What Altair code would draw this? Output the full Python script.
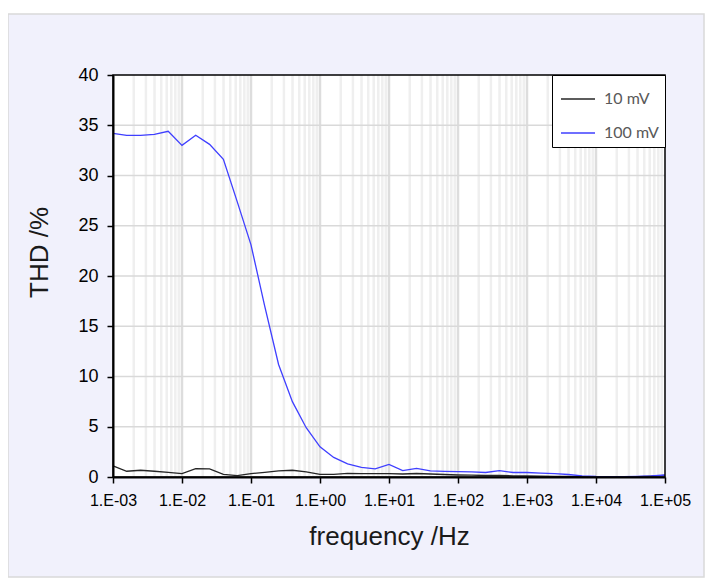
import altair as alt
import pandas as pd

# ---- data ----
freq = [0.001, 0.00158, 0.00251, 0.00398, 0.00631,
        0.01, 0.0158, 0.0251, 0.0398, 0.0631,
        0.1, 0.158, 0.251, 0.398, 0.631,
        1.0, 1.58, 2.51, 3.98, 6.31,
        10.0, 15.8, 25.1, 39.8, 63.1,
        100.0, 158.0, 251.0, 398.0, 631.0,
        1000.0, 1580.0, 2510.0, 3980.0, 6310.0,
        10000.0, 15800.0, 25100.0, 39800.0, 63100.0, 100000.0]

thd_10mv = [1.1, 0.57, 0.67, 0.57, 0.47,
            0.33, 0.83, 0.8, 0.27, 0.13,
            0.33, 0.47, 0.6, 0.67, 0.5,
            0.27, 0.27, 0.37, 0.33, 0.33,
            0.33, 0.3, 0.35, 0.3, 0.25,
            0.2, 0.18, 0.15, 0.15, 0.12,
            0.1, 0.08, 0.06, 0.05, 0.03,
            0.02, 0.02, 0.02, 0.03, 0.08, 0.15]

thd_100mv = [34.2, 34.0, 34.0, 34.1, 34.4,
             33.0, 34.0, 33.1, 31.6, 27.4,
             23.1, 17.0, 11.2, 7.5, 4.9,
             3.0, 1.95, 1.3, 0.95, 0.8,
             1.25, 0.63, 0.85, 0.6, 0.55,
             0.53, 0.5, 0.45, 0.63, 0.45,
             0.45, 0.38, 0.33, 0.25, 0.12,
             0.05, 0.03, 0.03, 0.05, 0.1, 0.2]

series = ["10 mV", "100 mV"]
colors = ["#262626", "#3f3fff"]
x_ticks = [1e-3, 1e-2, 1e-1, 1e0, 1e1, 1e2, 1e3, 1e4, 1e5]
y_ticks = [0, 5, 10, 15, 20, 25, 30, 35, 40]
y_grid = [5, 10, 15, 20, 25, 30, 35]
minor_grid = [m * d for d in x_ticks[:-1] for m in range(2, 10)]

rows = []
for name, vals in zip(series, [thd_10mv, thd_100mv]):
    for f, v in zip(freq, vals):
        rows.append({"f": f, "v": v, "series": name})
df = pd.DataFrame(rows)

W, H = 552, 402

x_scale = alt.Scale(type="log", domain=[1e-3, 1e5], nice=False)
y_scale = alt.Scale(domain=[0, 40], nice=False, zero=False)

lbl = "round(log(datum.value)/LN10)"
x_axis = alt.Axis(
    values=x_ticks,
    labelExpr=f"'1.E' + ({lbl} < 0 ? '-' : '+') + '0' + abs({lbl})",
    title="frequency /Hz", grid=False, zindex=1,
    labelFont="Liberation Sans", labelFontSize=16, labelColor="#000000",
    labelPadding=9, labelFlush=False, labelOverlap=False, labelBound=False,
    tickSize=6, tickColor="#000000", tickWidth=1.5,
    domainColor="#000000", domainWidth=2,
    titleFont="Liberation Sans", titleFontSize=26, titleFontWeight="normal",
    titleColor="#1a1a1a", titleX=W / 2, titleY=67, titleBaseline="alphabetic",
    titleAlign="center", titleAnchor="middle",
)
y_axis = alt.Axis(
    values=y_ticks, title="THD /%", grid=False, zindex=1,
    labelFont="Liberation Sans", labelFontSize=18, labelColor="#000000",
    labelPadding=9,
    tickSize=6, tickColor="#000000", tickWidth=1.5,
    domainColor="#000000", domainWidth=2,
    titleFont="Liberation Sans", titleFontSize=26, titleFontWeight="normal",
    titleColor="#1a1a1a", titleAngle=270, titleX=-66, titleY=177,
    titleBaseline="alphabetic", titleAlign="center", titleAnchor="middle",
)

one = alt.Data(values=[{}])

frame = alt.Chart(one).mark_rect(fill="#f1f1fc", stroke="#d9d9d9", strokeWidth=1.5).encode(
    x=alt.value(-105), x2=alt.value(591), y=alt.value(-61), y2=alt.value(502)
)
plot_bg = alt.Chart(one).mark_rect(fill="#ffffff").encode(
    x=alt.value(0), x2=alt.value(W), y=alt.value(0), y2=alt.value(H)
)

minor = alt.Chart(pd.DataFrame({"f": minor_grid})).mark_rule(
    color="#efefef", strokeWidth=2.5
).encode(x=alt.X("f:Q", scale=x_scale, axis=x_axis))

major = alt.Chart(pd.DataFrame({"f": x_ticks[1:-1]})).mark_rule(
    color="#dddddd", strokeWidth=2.5
).encode(x=alt.X("f:Q", scale=x_scale, axis=x_axis))

hgrid = alt.Chart(pd.DataFrame({"v": y_grid})).mark_rule(
    color="#d9d9d9", strokeWidth=1.5
).encode(y=alt.Y("v:Q", scale=y_scale, axis=y_axis))

lines = alt.Chart(df).mark_line(strokeWidth=1.3).encode(
    x=alt.X("f:Q", scale=x_scale, axis=x_axis),
    y=alt.Y("v:Q", scale=y_scale, axis=y_axis),
    color=alt.Color(
        "series:N",
        scale=alt.Scale(domain=series, range=colors),
        sort=series,
        legend=alt.Legend(
            title=None, orient="top-right", offset=0,
            fillColor="#ffffff", strokeColor="#000000",
            padding=6, symbolType="stroke", symbolSize=1156,
            symbolStrokeWidth=1.3, symbolOffset=2, rowPadding=8,
            labelOffset=8, labelFont="Lato", labelFontSize=16,
            labelColor="#595959",
        ),
    ),
)

border = alt.Chart(one).mark_rect(filled=False, stroke="#000000", strokeWidth=1.5).encode(
    x=alt.value(0), x2=alt.value(W), y=alt.value(0), y2=alt.value(H)
)

chart = alt.layer(frame, plot_bg, minor, major, hgrid, lines, border).properties(
    width=W, height=H,
    autosize=alt.AutoSizeParams(type="none"),
    padding={"left": 105, "top": 67, "right": 45, "bottom": 102},
).configure(background="#ffffff").configure_view(stroke=None)

chart.save("out.html", embed_options={"renderer": "svg", "actions": False})
